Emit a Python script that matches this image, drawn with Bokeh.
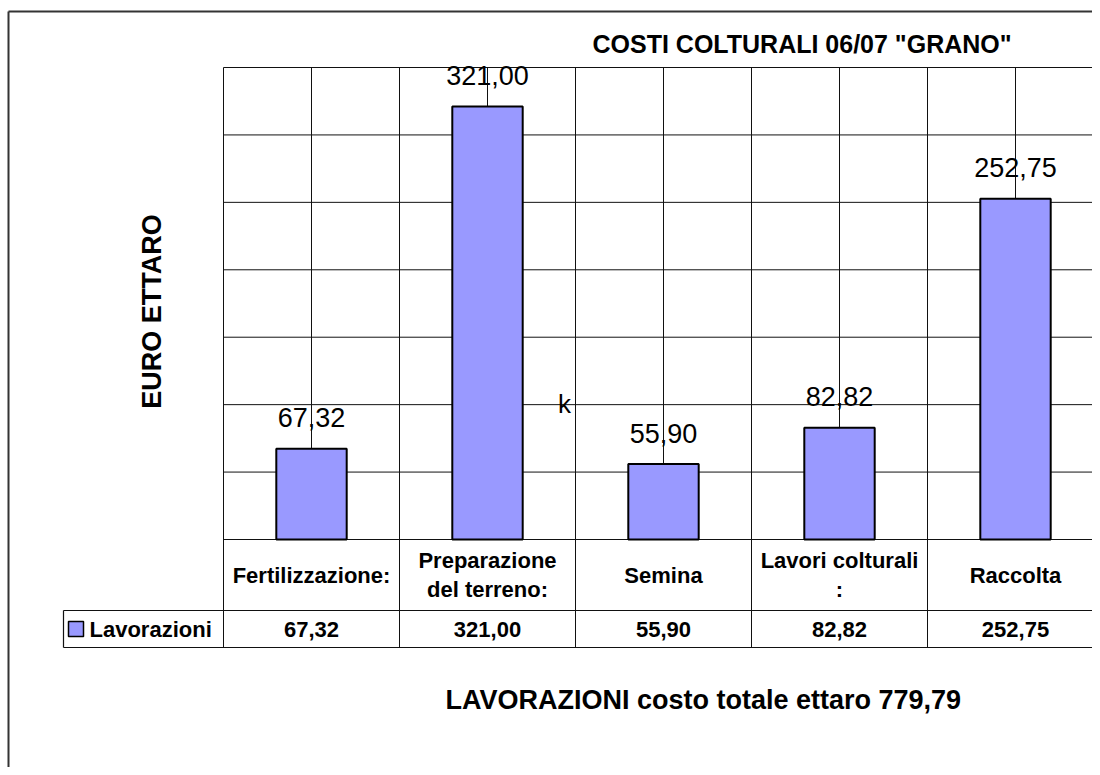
from math import pi
from bokeh.plotting import figure
from bokeh.models import Range1d
from bokeh.core.properties import value
from bokeh.embed import file_html
from bokeh.resources import INLINE

# ---------------- data ----------------
categories = ["Fertilizzazione:", "Preparazione\ndel terreno:", "Semina",
              "Lavori colturali\n:", "Raccolta"]
values = [67.32, 321.00, 55.90, 82.82, 252.75]
series_name = "Lavorazioni"
y_ticks = [0, 50, 100, 150, 200, 250, 300, 350]
title_text = 'COSTI COLTURALI 06/07 "GRANO"'
y_label = "EURO ETTARO"
footer_prefix = "LAVORAZIONI costo totale ettaro"


def fmt(v):
    return f"{v:.2f}".replace(".", ",")


# ---------------- geometry (picture px -> data) ----------------
W, H = 1092, 767
X0, CW = 223, 176          # left edge of first category, category width (px)
Y0, YTOP = 539, 67         # value 0 and top value (px)
k = (Y0 - YTOP) / y_ticks[-1]


def dx(px):
    return (px - X0) / CW


def dy(py):
    return (Y0 - py) / k


n = len(categories)
centers = [i + 0.5 for i in range(n)]
row1_bot = dy(610)
row2_bot = dy(647)
leg_left = dx(63)
FONT = value("Liberation Sans")
LINE = "#111111"

p = figure(width=W, height=H, output_backend="svg", toolbar_location=None,
           x_axis_type=None, y_axis_type=None,
           x_range=Range1d(dx(0), dx(W)),
           y_range=Range1d(dy(H), dy(0)),
           min_border=0, outline_line_color=None,
           background_fill_color="white", border_fill_color="white")

# outer chart border (top and left visible)
p.segment(x0=[dx(8), dx(8)], y0=[dy(11), dy(11)],
          x1=[dx(W + 20), dx(8)], y1=[dy(11), dy(H + 20)],
          line_color="#333333", line_width=2)

# horizontal gridlines
top = y_ticks[-1]
p.segment(x0=[0] * (len(y_ticks) - 1), y0=y_ticks[1:],
          x1=[n] * (len(y_ticks) - 1), y1=y_ticks[1:],
          line_color=LINE, line_width=1)
# vertical gridlines (category centers) in plot area
p.segment(x0=centers, y0=[0] * n, x1=centers, y1=[top] * n,
          line_color=LINE, line_width=1)
# category boundaries through plot and table
bounds = list(range(n + 1))
p.segment(x0=bounds, y0=[row2_bot] * (n + 1), x1=bounds, y1=[top] * (n + 1),
          line_color=LINE, line_width=1)

# table horizontal lines
p.segment(x0=[0, leg_left, leg_left], y0=[0, row1_bot, row2_bot],
          x1=[n, n, n], y1=[0, row1_bot, row2_bot],
          line_color=LINE, line_width=1.2)
p.segment(x0=[leg_left], y0=[row1_bot], x1=[leg_left], y1=[row2_bot],
          line_color=LINE, line_width=1.2)

# bars
p.vbar(x=centers, top=values, bottom=0, width=0.4,
       fill_color="#9999FF", line_color="black", line_width=2)

# value labels (centred ~31px above bar tops)
p.text(x=centers, y=[v + 31 / k for v in values], text=[fmt(v) for v in values],
       text_font=FONT, text_font_size="27px", text_align="center",
       text_baseline="middle", text_color="black")

# stray 'k'
p.text(x=[dx(564)], y=[dy(403)], text=["k"], text_font=FONT,
       text_font_size="26px", text_align="center", text_baseline="middle",
       text_color="black")

# table row 1: category labels
p.text(x=centers, y=[(0 + row1_bot) / 2] * n, text=categories,
       text_font=FONT, text_font_size="22px", text_font_style="bold",
       text_align="center", text_baseline="middle", text_color="black",
       text_line_height=1.15)

# table row 2: values
p.text(x=centers, y=[(row1_bot + row2_bot) / 2] * n, text=[fmt(v) for v in values],
       text_font=FONT, text_font_size="22px", text_font_style="bold",
       text_align="center", text_baseline="middle", text_color="black")

# legend key
p.rect(x=[dx(75.5)], y=[(row1_bot + row2_bot) / 2], width=15, height=15,
       width_units="screen", height_units="screen",
       fill_color="#9999FF", line_color="black", line_width=1.5)
p.text(x=[dx(89)], y=[(row1_bot + row2_bot) / 2], text=[series_name],
       text_font=FONT, text_font_size="22px", text_font_style="bold",
       text_align="left", text_baseline="middle", text_color="black")

# title
p.text(x=[dx(592)], y=[dy(43)], text=[title_text], text_font=FONT,
       text_font_size="25px", text_font_style="bold", text_align="left",
       text_baseline="middle", text_color="black")

# y-axis label
p.text(x=[dx(151)], y=[dy(311)], text=[y_label], angle=pi / 2, text_font=FONT,
       text_font_size="27px", text_font_style="bold", text_align="center",
       text_baseline="middle", text_color="black")

# footer
p.text(x=[dx(445)], y=[dy(699)], text=[f"{footer_prefix} {fmt(sum(values))}"],
       text_font=FONT, text_font_size="27px", text_font_style="bold",
       text_align="left", text_baseline="middle", text_color="black")

open("out.html", "w").write(file_html(p, INLINE))
